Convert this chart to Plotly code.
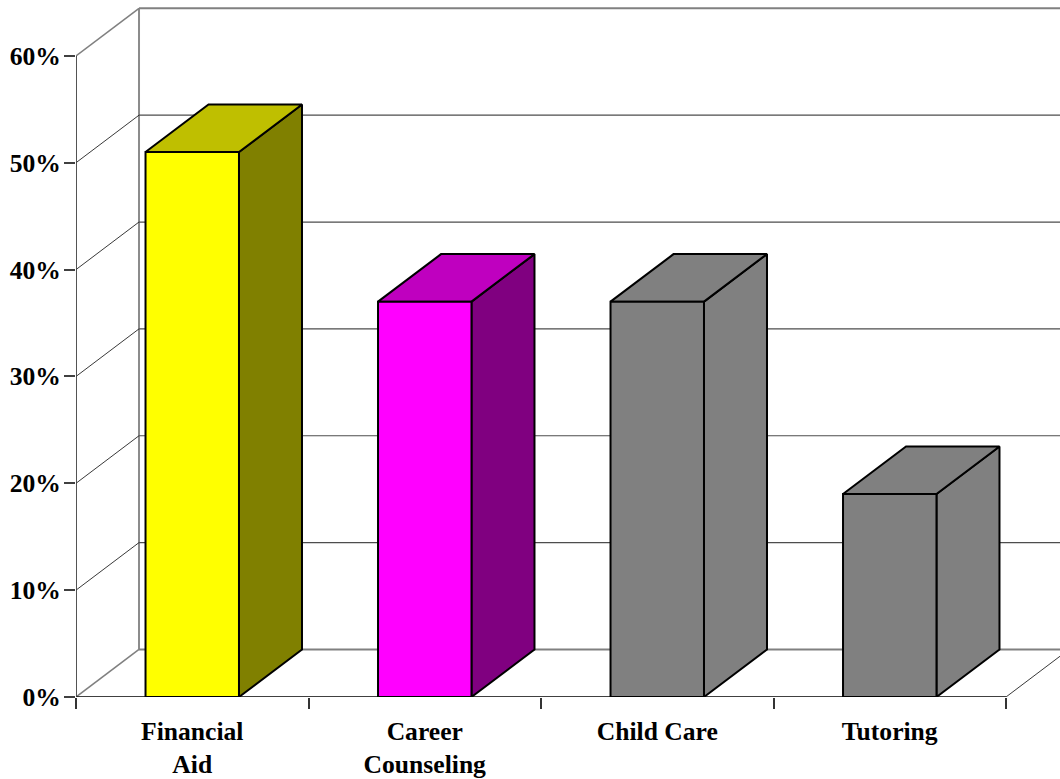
import plotly.graph_objects as go

categories = ["Financial<br>Aid", "Career<br>Counseling", "Child Care", "Tutoring"]
values = [51, 37, 37, 19]
front_colors = ["#FFFF00", "#FF00FF", "#808080", "#808080"]
top_colors = ["#BFBF00", "#BF00BF", "#808080", "#808080"]
side_colors = ["#808000", "#800080", "#808080", "#808080"]
y_ticks = [0, 10, 20, 30, 40, 50, 60]
y_labels = ["0%", "10%", "20%", "30%", "40%", "50%", "60%"]

DEPTH_X = 0.271
DEPTH_Y = 4.45
BAR_W = 0.402
X_MAX = 984 / 232.5
Y_MAX = 697.3 / 10.69
n = len(categories)

TICK_FONT = dict(family="Liberation Serif", size=25.6, color="black", weight="bold")
fig = go.Figure()


def line(xs, ys, color="#404040", width=1.0):
    fig.add_trace(go.Scatter(x=xs, y=ys, mode="lines", cliponaxis=False,
                             line=dict(color=color, width=width), hoverinfo="skip"))


def face(xs, ys, fill):
    fig.add_trace(go.Scatter(x=xs + xs[:1], y=ys + ys[:1], mode="lines", fill="toself",
                             fillcolor=fill, cliponaxis=False,
                             line=dict(color="black", width=2, shape="linear"),
                             hoverinfo="skip"))


# back wall and floor
line([DEPTH_X, DEPTH_X], [DEPTH_Y, 60 + DEPTH_Y], "#8C8C8C", 2)
for t in y_ticks:
    outer = t in (0, 60)
    c = "#808080" if outer else "#4D4D4D"
    w = 2 if outer else 1.2
    line([DEPTH_X, X_MAX], [t + DEPTH_Y, t + DEPTH_Y], c, w)
    line([0, DEPTH_X], [t, t + DEPTH_Y], "#808080" if outer else "#222222", 1.6 if outer else 0.9)
# right floor edge, front axes
line([n, n + DEPTH_X], [0, DEPTH_Y], "#222222", 0.9)
line([0, n], [0, 0], "black", 1.4)
line([0, 0], [0, 60], "#404040", 1.8)

# bars
for i, v in enumerate(values):
    x0 = i + 0.5 - BAR_W / 2
    x1 = i + 0.5 + BAR_W / 2
    face([x1, x1 + DEPTH_X, x1 + DEPTH_X, x1], [0, DEPTH_Y, v + DEPTH_Y, v], side_colors[i])
    face([x0, x1, x1 + DEPTH_X, x0 + DEPTH_X], [v, v, v + DEPTH_Y, v + DEPTH_Y], top_colors[i])
    face([x0, x1, x1, x0], [0, 0, v, v], front_colors[i])

fig.update_layout(
    width=1060, height=779,
    margin=dict(l=76, r=0, t=0, b=81.7, autoexpand=False),
    paper_bgcolor="white", plot_bgcolor="white",
    showlegend=False, hovermode=False,
    font=TICK_FONT,
    xaxis=dict(range=[0, X_MAX], showgrid=False, zeroline=False, showline=False,
               tickmode="array", tickvals=[i + 0.5 for i in range(n)], ticktext=categories,
               ticks="outside", ticklen=11, tickcolor="rgba(0,0,0,0)", tickangle=0,
               ticklabelstandoff=0,
               tickfont=TICK_FONT,
               minor=dict(tickmode="array", tickvals=list(range(n + 1)), ticks="outside",
                          ticklen=11, tickcolor="#333333", tickwidth=1.5, showgrid=False)),
    yaxis=dict(range=[0, Y_MAX], showgrid=False, zeroline=False, showline=False,
               tickmode="array", tickvals=y_ticks, ticktext=y_labels,
               ticks="outside", ticklen=11, tickcolor="#404040", tickwidth=1.5,
               ticklabelstandoff=-2,
               tickfont=TICK_FONT),
)

fig.write_html("out.html", config=dict(displayModeBar=False),
               post_script="document.body.style.margin='0';document.body.style.overflow='hidden';")
